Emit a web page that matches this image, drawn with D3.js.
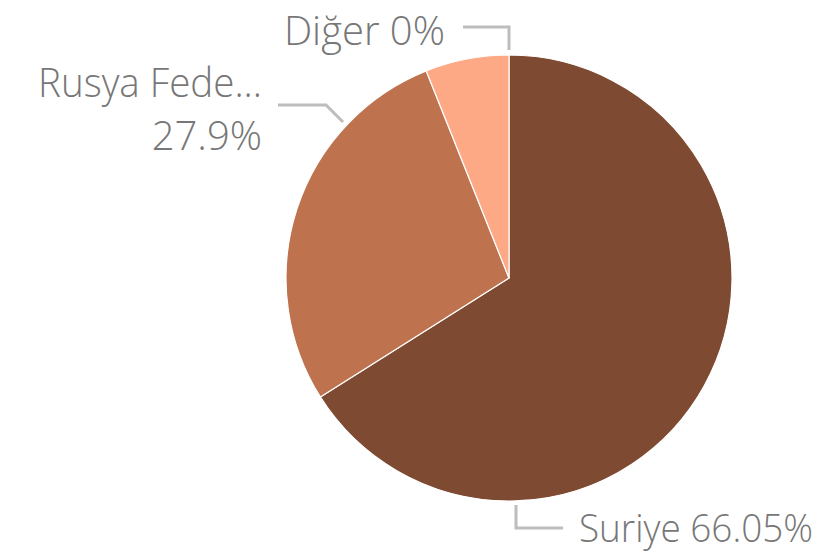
<!DOCTYPE html>
<html>
<head>
<meta charset="utf-8">
<script src="https://cdn.jsdelivr.net/npm/d3@7"></script>
<style>
  html, body { margin: 0; padding: 0; background: #fff; }
  svg { display: block; }
  .lbl { font-family: "Open Sans", "Noto Sans", sans-serif; font-weight: 300; fill: #777; font-size: 40px; }
</style>
</head>
<body>
<svg id="chart" width="823" height="557"></svg>
<script>
// Slice data, clockwise from 12 o'clock
const categories = ["Suriye", "Rusya Federasyonu", "Irak", "Diğer"];
const values = [66.05, 27.9, 6.05, 0];
const colors = ["#7E4A31", "#BE724E", "#FDA985", "#D9A07F"];
// Display text for each slice label (null = not shown)
const labelNames = ["Suriye", "Rusya Fede...", null, "Diğer"];
const labelValues = ["66.05%", "27.9%", null, "0%"];

const W = 823, H = 557;
const cx = 509, cy = 278, R = 223;

const svg = d3.select("#chart");
const g = svg.append("g").attr("transform", `translate(${cx},${cy})`);

const data = categories.map((c, i) => ({ cat: c, value: values[i], color: colors[i], i }));

const pie = d3.pie().value(d => d.value).sort(null);
const arc = d3.arc().innerRadius(0).outerRadius(R);
const arcs = pie(data);

g.selectAll("path.slice")
  .data(arcs.filter(a => a.data.value > 0))
  .join("path")
  .attr("class", "slice")
  .attr("d", arc)
  .attr("fill", d => d.data.color)
  .attr("stroke", "#fff")
  .attr("stroke-width", 1.2)
  .attr("stroke-linejoin", "round");

// Keep a label inside a given width
function fit(sel, maxW) {
  const n = sel.node();
  if (n.getComputedTextLength() > maxW) sel.attr("textLength", maxW).attr("lengthAdjust", "spacingAndGlyphs");
  return sel;
}

// Leader lines + labels, placed relative to the pie centre
const leader = d3.line();
const lineStyle = sel => sel.attr("fill", "none").attr("stroke", "#BDBDBD").attr("stroke-width", 3);

// Suriye (bottom)
lineStyle(g.append("path").attr("d", leader([[7, 227], [7, 250], [54, 250]])));
fit(g.append("text").attr("class", "lbl").style("font-size", "39px")
  .attr("x", 70).attr("y", 264)
  .text(`${labelNames[0]} ${labelValues[0]}`), W - cx - 70 - 10);

// Rusya Federasyonu (left)
lineStyle(g.append("path").attr("d", leader([[-166, -156], [-183, -173], [-231, -173]])));
fit(g.append("text").attr("class", "lbl").attr("text-anchor", "end")
  .attr("x", -247).attr("y", -181).text(labelNames[1]), 224);
g.append("text").attr("class", "lbl").attr("text-anchor", "end")
  .attr("x", -247).attr("y", -128).text(labelValues[1]);

// Diğer (top) — sits at the 12 o'clock seam
const dAngle = arcs[3].startAngle;
const dx = R * Math.sin(dAngle), dy = -R * Math.cos(dAngle);
lineStyle(g.append("path").attr("d", leader([[dx, dy - 5], [dx, dy - 28], [dx - 46, dy - 28]])));
g.append("text").attr("class", "lbl").attr("text-anchor", "end")
  .attr("x", dx - 64).attr("y", dy - 10).text(`${labelNames[3]} ${labelValues[3]}`);
</script>
</body>
</html>
